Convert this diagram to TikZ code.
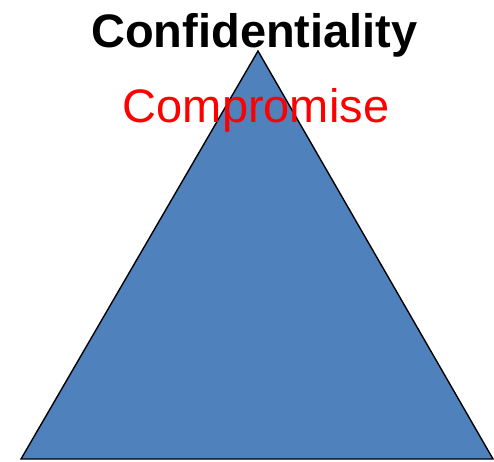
\documentclass[tikz,border=0pt]{standalone}
\usepackage{fontspec}
\setmainfont{Liberation Sans}
\definecolor{triblue}{HTML}{4F81BD}
\begin{document}
\begin{tikzpicture}[x=1pt,y=1pt,
  tri/.style={fill=triblue,draw=black,line width=1.4pt,line join=miter},
  lbl/.style={anchor=base,inner sep=0pt,font=\fontsize{47}{56}\selectfont}]
\useasboundingbox (0,0) rectangle (494,461);
\coordinate (apex) at (258,410);
\coordinate (bl) at (21,2);
\coordinate (br) at (493,2);
\draw[tri] (apex) -- (bl) -- (br) -- cycle;
\node[lbl,font=\fontsize{47}{56}\selectfont\bfseries] (title) at (254.5,413) {Confidentiality};
\node[lbl,text=red] (comp) at (256,338) {Compromise};
\end{tikzpicture}
\end{document}
